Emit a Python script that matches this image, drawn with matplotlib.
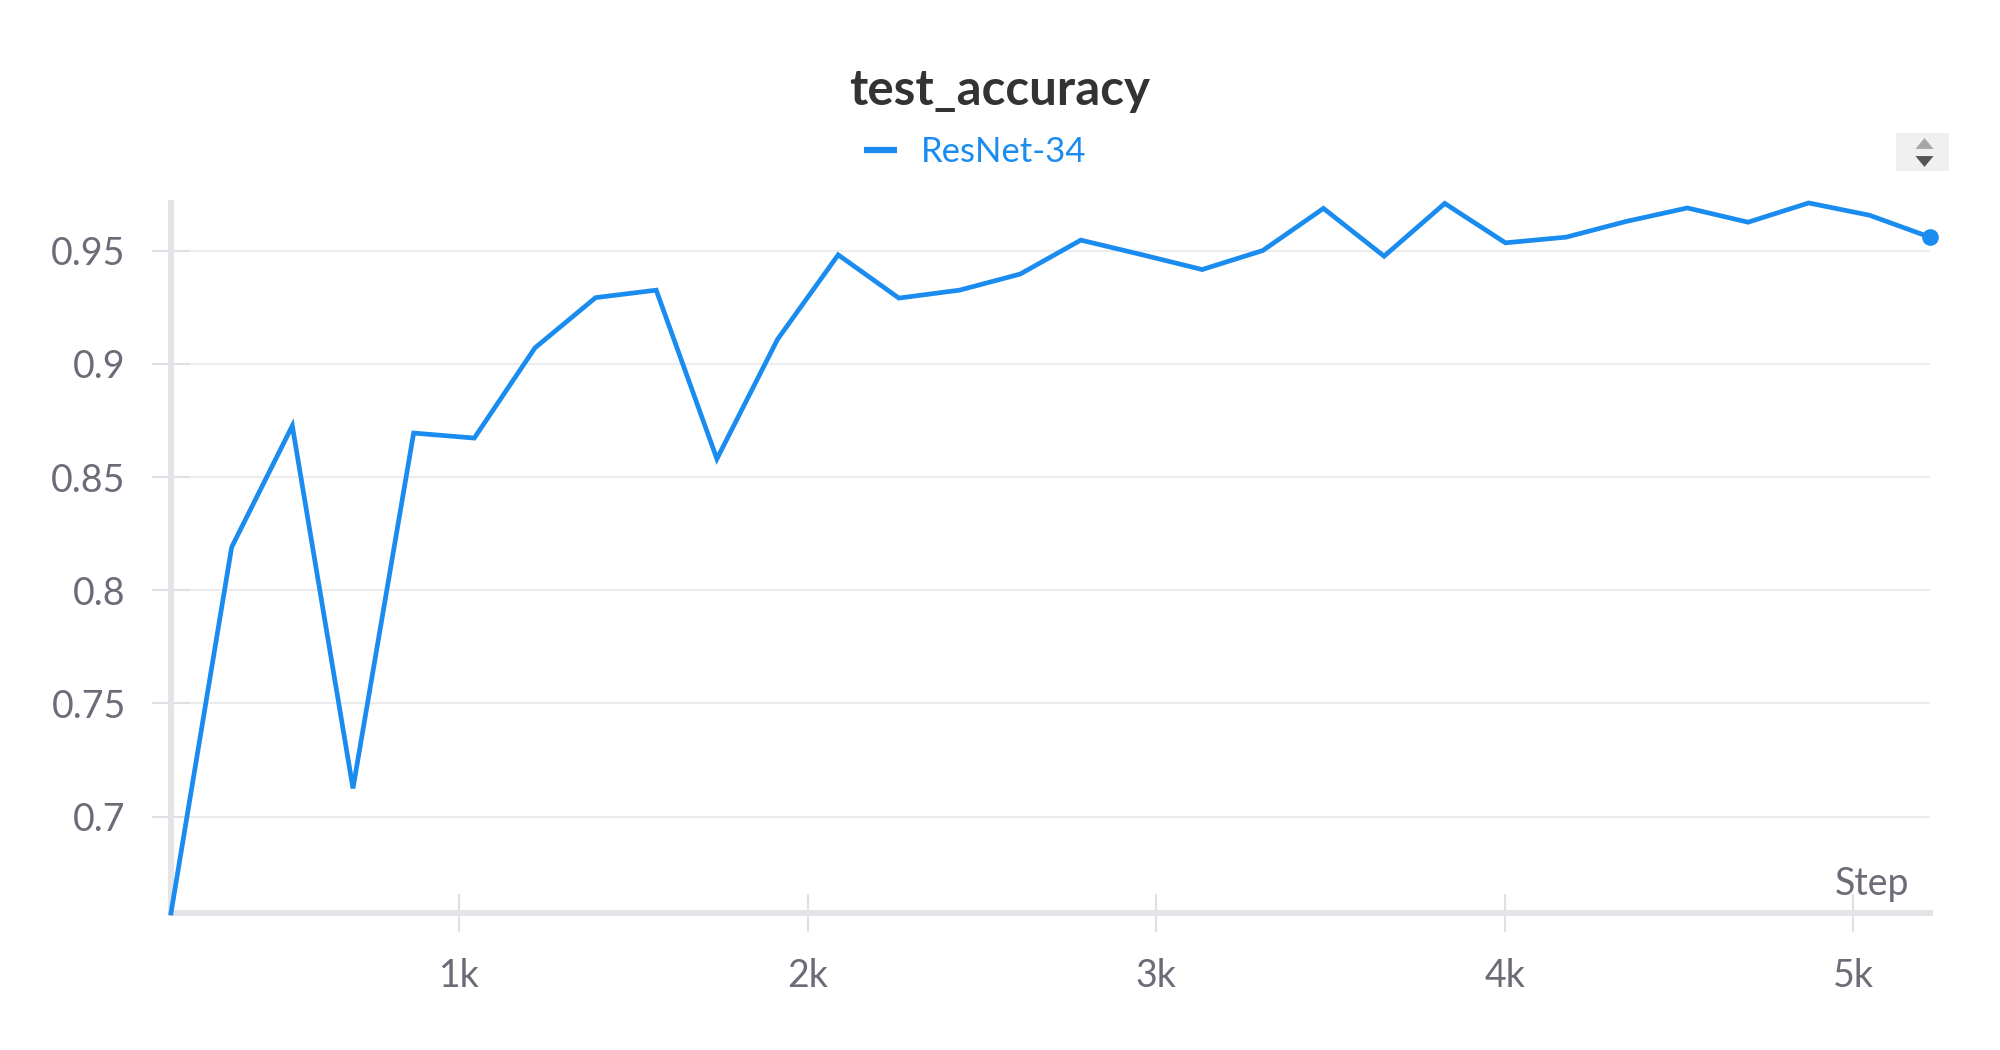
import matplotlib
matplotlib.use("Agg")
import matplotlib.pyplot as plt
from matplotlib.lines import Line2D
from matplotlib.patches import Rectangle

plt.rcParams['font.family'] = ['Lato', 'DejaVu Sans']

# data
steps = [174, 348, 522, 696, 870, 1044, 1218, 1392, 1566, 1740,
         1914, 2088, 2262, 2436, 2610, 2784, 2958, 3132, 3306, 3480,
         3654, 3828, 4002, 4176, 4350, 4524, 4698, 4872, 5046, 5220]
test_accuracy = [0.6575, 0.8190, 0.8726, 0.7125, 0.8694, 0.8672, 0.9070, 0.9292, 0.9325, 0.8580,
                 0.9108, 0.9481, 0.9290, 0.9325, 0.9396, 0.9546, 0.9482, 0.9416, 0.9500, 0.9686,
                 0.9475, 0.9708, 0.9534, 0.9559, 0.9629, 0.9688, 0.9625, 0.9710, 0.9656, 0.9559]
series_name = "ResNet-34"
yticks = [0.7, 0.75, 0.8, 0.85, 0.9, 0.95]
ytick_labels = ["0.7", "0.75", "0.8", "0.85", "0.9", "0.95"]
xticks = [1000, 2000, 3000, 4000, 5000]
xtick_labels = ["1k", "2k", "3k", "4k", "5k"]

blue = '#1a8cef'
axis_grey = '#e3e3e8'
grid_grey = '#ececee'
label_grey = '#6b6c78'

fig = plt.figure(figsize=(20, 10.5), dpi=100)
ax = fig.add_axes([0.0855, 0.1305, 0.8795, 0.6762])

ax.plot(steps, test_accuracy, color=blue, lw=3.4, clip_on=False,
        solid_joinstyle='miter', label=series_name, zorder=3)
ax.plot(steps[-1], test_accuracy[-1], 'o', color=blue, ms=11, clip_on=False, zorder=4)

ax.set_xlim(steps[0], steps[-1])
ax.set_ylim(min(test_accuracy), max(test_accuracy))

ax.set_yticks(yticks)
ax.set_yticklabels(ytick_labels)
ax.set_xticks(xticks)
ax.set_xticklabels(xtick_labels)

for s in ['top', 'right']:
    ax.spines[s].set_visible(False)
for s in ['left', 'bottom']:
    ax.spines[s].set_color(axis_grey)
    ax.spines[s].set_linewidth(4.3)

ax.tick_params(axis='both', direction='inout', length=27, width=1.5,
               color='#e0e0e4', labelsize=27, labelcolor=label_grey, pad=19)
ax.grid(axis='y', color=grid_grey, lw=1.5)
ax.set_axisbelow(True)

ax.text(0.988, 0.025, "Step", transform=ax.transAxes, ha='right', va='baseline',
        fontsize=27, color=label_grey)

fig.text(0.5, 0.9, "test_accuracy", ha='center', va='baseline',
         fontsize=35.5, fontweight='bold', color='#333333')

leg = ax.legend(loc='center', bbox_to_anchor=(0.4875, 0.855), bbox_transform=fig.transFigure,
                frameon=False, fontsize=25, handlelength=0.96, handletextpad=0.66,
                borderpad=0, borderaxespad=0)
for t in leg.get_texts():
    t.set_color(blue)
for h in leg.get_lines():
    h.set_linewidth(4.5)
    h.set_solid_capstyle('butt')

# sort toggle in the top right corner
up_tri = [(-1, -0.6), (1, -0.6), (0, 0.6)]
down_tri = [(-1, 0.6), (1, 0.6), (0, -0.6)]
fig.add_artist(Rectangle((0.948, 0.837), 0.0265, 0.036, transform=fig.transFigure,
                         facecolor='#f0f0f0', edgecolor='none'))
fig.add_artist(Line2D([0.962], [0.8635], marker=up_tri, ms=13, color='#a6a6a6',
                      markeredgewidth=0, transform=fig.transFigure))
fig.add_artist(Line2D([0.962], [0.8465], marker=down_tri, ms=13, color='#555555',
                      markeredgewidth=0, transform=fig.transFigure))

fig.savefig('out.png', dpi=100, facecolor='white')
